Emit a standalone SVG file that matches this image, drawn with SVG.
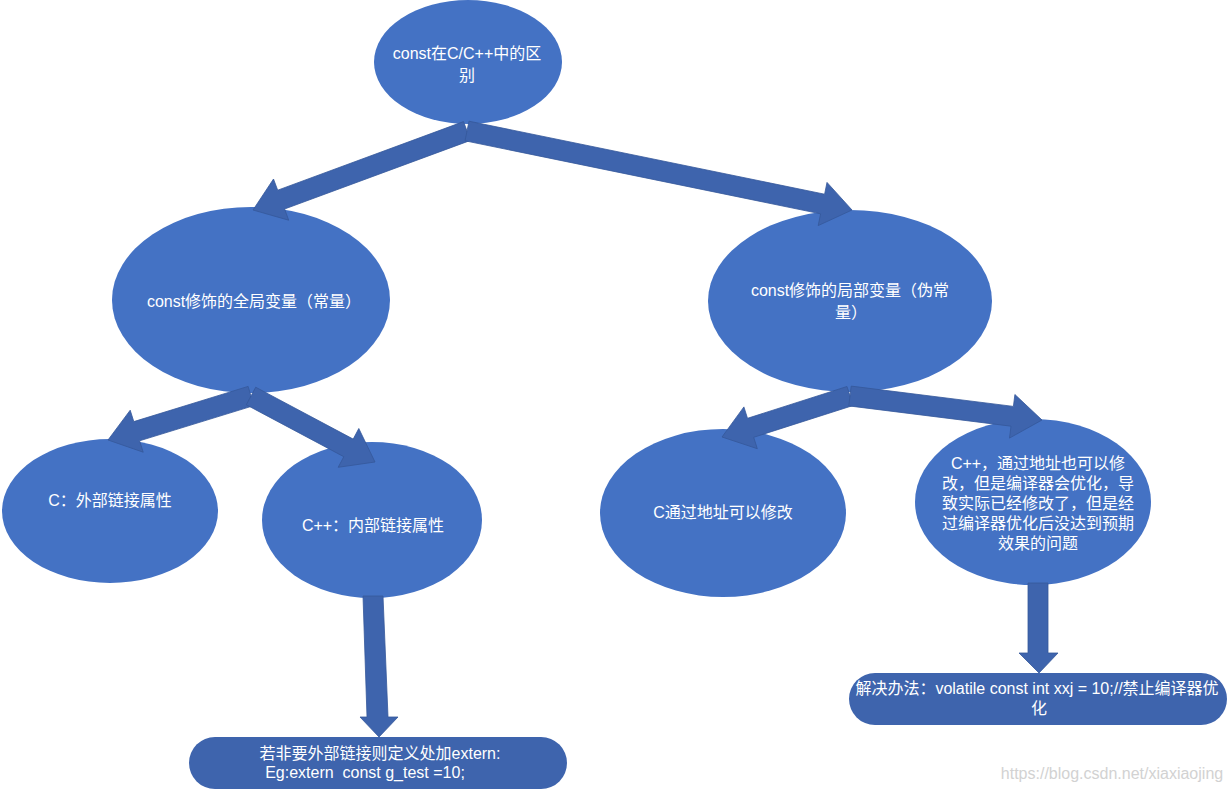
<svg xmlns="http://www.w3.org/2000/svg" width="1231" height="791" viewBox="0 0 1231 791">
<style>
.node{fill:#4472C4;}
.box{fill:#3E64AD;}
.arr{fill:#3E64AD;stroke:#35589A;stroke-width:0.8;stroke-linejoin:miter;}
.t{font-family:"Liberation Sans","Noto Sans CJK SC",sans-serif;font-size:16px;fill:#FFFFFF;text-anchor:middle;white-space:pre;}
.wm{font-family:"Liberation Sans",Arial,sans-serif;font-size:16px;fill:#D2D2D2;text-anchor:middle;}
</style>
<rect width="1231" height="791" fill="#FFFFFF"/>
<g id="n-root">
<ellipse class="node" cx="468" cy="62" rx="94" ry="62"/>
<text class="t" x="467" y="59">const在C/C++中的区</text>
<text class="t" x="467" y="81">别</text>
</g>
<g id="n-global">
<ellipse class="node" cx="251" cy="300" rx="139" ry="93"/>
<text class="t" x="254" y="307">const修饰的全局变量（常量）</text>
</g>
<g id="n-local">
<ellipse class="node" cx="850" cy="301" rx="142" ry="91"/>
<text class="t" x="850" y="296">const修饰的局部变量（伪常</text>
<text class="t" x="851" y="318">量）</text>
</g>
<g id="n-c-ext">
<ellipse class="node" cx="110" cy="511" rx="108" ry="72"/>
<text class="t" x="110" y="506">C：外部链接属性</text>
</g>
<g id="n-cpp-int">
<ellipse class="node" cx="372" cy="520" rx="110" ry="78"/>
<text class="t" x="373" y="531">C++：内部链接属性</text>
</g>
<g id="n-c-addr">
<ellipse class="node" cx="723" cy="513" rx="123" ry="84"/>
<text class="t" x="723" y="518">C通过地址可以修改</text>
</g>
<g id="n-cpp-addr">
<ellipse class="node" cx="1033" cy="502" rx="118" ry="83"/>
<text class="t" x="1038" y="469">C++，通过地址也可以修</text>
<text class="t" x="1038" y="489">改，但是编译器会优化，导</text>
<text class="t" x="1038" y="509">致实际已经修改了，但是经</text>
<text class="t" x="1038" y="529">过编译器优化后没达到预期</text>
<text class="t" x="1038" y="549">效果的问题</text>
</g>
<g id="n-extern">
<rect class="box" x="189" y="737" width="378" height="52" rx="26" ry="26"/>
<text class="t" x="380" y="759">若非要外部链接则定义处加extern:</text>
<text class="t" x="365" y="778">Eg:extern  const g_test =10;</text>
</g>
<g id="n-volatile">
<rect class="box" x="849" y="673" width="378" height="52" rx="26" ry="26"/>
<text class="t" x="1037" y="694">解决办法：volatile const int xxj = 10;//禁止编译器优</text>
<text class="t" x="1039" y="714">化</text>
</g>
<g id="connectors">
<polygon class="arr" points="463.5,121.6 277.7,190.2 273.5,179.0 253,210 288.7,220.2 284.6,209.0 470.5,140.4"/>
<polygon class="arr" points="469,121.2 824.6,194.2 827.0,182.4 852,210 818.2,225.6 820.6,213.8 465,140.8"/>
<polygon class="arr" points="248.1,386.4 133.8,421.6 130.2,410.2 108,440 143.2,452.2 139.6,440.8 253.9,405.6"/>
<polygon class="arr" points="255.7,387.2 353.2,439.1 358.8,428.5 375,462 338.2,467.3 343.8,456.7 246.3,404.8"/>
<polygon class="arr" points="847.0,386.5 747.5,418.3 743.9,406.9 722,437 757.3,448.7 753.7,437.3 853.1,405.5"/>
<polygon class="arr" points="851.2,386.1 1013.4,406.4 1014.9,394.5 1042,420 1009.5,438.1 1011.0,426.2 848.8,405.9"/>
<polygon class="arr" points="363,596 383,596 388,717 398,717 379,737 360,717 367,717"/>
<polygon class="arr" points="1028,583 1048,583 1048,653 1058,653 1039,673 1019,653 1028,653"/>
</g>
<text class="wm" x="1112" y="779">https://blog.csdn.net/xiaxiaojing</text>
</svg>
